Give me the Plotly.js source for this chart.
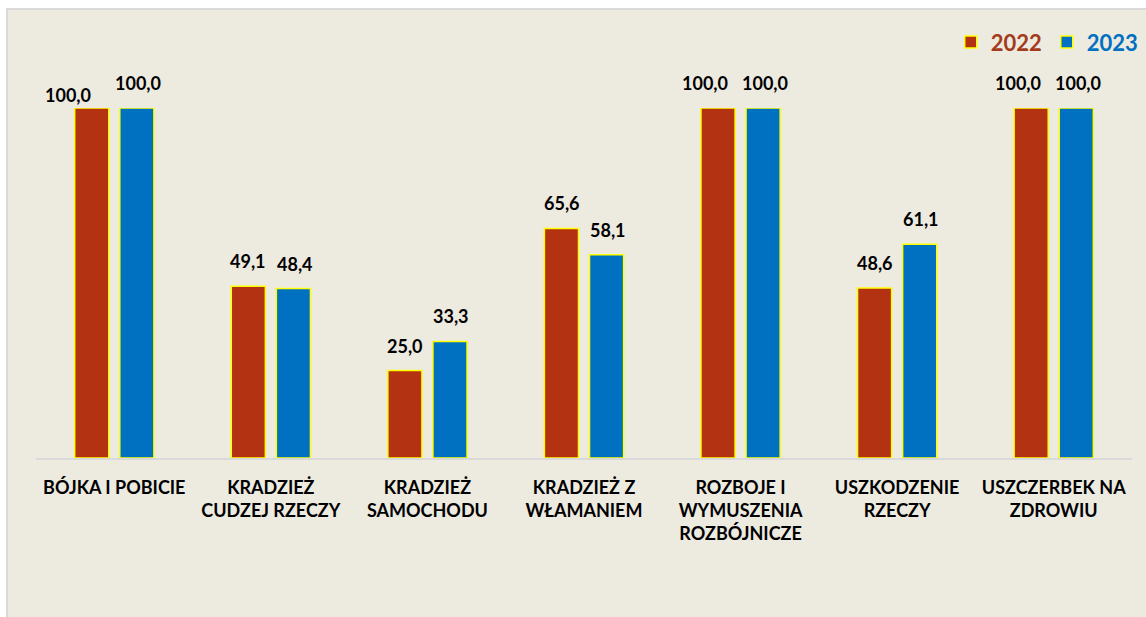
<!DOCTYPE html>
<html>
<head>
<meta charset="utf-8">
<script src="https://cdn.plot.ly/plotly-3.0.1.min.js"></script>
<style>
  body { margin: 0; background: #ffffff; }
  #chart {
    position: absolute; left: 6px; top: 8px;
    width: 1140px; height: 609px;
    border-left: 2px solid #d9d9d9; border-top: 2px solid #d9d9d9;
    box-sizing: border-box;
  }
</style>
</head>
<body>
<div id="chart"></div>
<script>
var categories = [
  "BÓJKA I POBICIE",
  "KRADZIEŻ<br>CUDZEJ RZECZY",
  "KRADZIEŻ<br>SAMOCHODU",
  "KRADZIEŻ Z<br>WŁAMANIEM",
  "ROZBOJE I<br>WYMUSZENIA<br>ROZBÓJNICZE",
  "USZKODZENIE<br>RZECZY",
  "USZCZERBEK NA<br>ZDROWIU"
];
var values2022 = [100.0, 49.1, 25.0, 65.6, 100.0, 48.6, 100.0];
var values2023 = [100.0, 48.4, 33.3, 58.1, 100.0, 61.1, 100.0];

var fontFamily = "Lato, 'Open Sans', 'Liberation Sans', sans-serif";

function fmt(v) {
  return v.toFixed(1).replace(".", ",");
}

var trace2022 = {
  x: categories,
  y: values2022,
  name: "<span style=\"color:#a33b1c\">2022</span>",
  type: "bar",
  marker: { color: "#b33212", line: { color: "#ffff00", width: 1.5 } },
  hoverinfo: "y"
};

var trace2023 = {
  x: categories,
  y: values2023,
  name: "<span style=\"color:#0070c0\">2023</span>",
  type: "bar",
  marker: { color: "#0070c0", line: { color: "#ffff00", width: 1.5 } },
  hoverinfo: "y"
};

// value labels above the bars; when both bars are full height the 2022 label
// is nudged left so the two labels don't run into each other
var annotations = [];
for (var i = 0; i < categories.length; i++) {
  var shiftRed = -22.5, liftRed = 12;
  if (i === 0) { shiftRed = -46; liftRed = 0; }
  else if (values2022[i] === values2023[i]) { shiftRed = -36; }
  annotations.push({
    x: categories[i], y: values2022[i], xref: "x", yref: "y",
    text: fmt(values2022[i]), showarrow: false,
    xanchor: "center", yanchor: "bottom",
    xshift: shiftRed, yshift: liftRed,
    font: { family: fontFamily, size: 18, color: "#000000", weight: "bold" }
  });
  annotations.push({
    x: categories[i], y: values2023[i], xref: "x", yref: "y",
    text: fmt(values2023[i]), showarrow: false,
    xanchor: "center", yanchor: "bottom",
    xshift: 24, yshift: 12,
    font: { family: fontFamily, size: 18, color: "#000000", weight: "bold" }
  });
}

var layout = {
  width: 1138,
  height: 607,
  paper_bgcolor: "#edeae0",
  plot_bgcolor: "#edeae0",
  margin: { l: 28, r: 14, t: 98, b: 159, autoexpand: false },
  barmode: "group",
  bargap: 0.424,
  bargroupgap: 0.244,
  showlegend: true,
  legend: {
    orientation: "h",
    xref: "container", yref: "container",
    x: 0.998, xanchor: "right",
    y: 0.947, yanchor: "middle",
    font: { family: fontFamily, size: 22, weight: "bold" },
    itemwidth: 30,
    bgcolor: "rgba(0,0,0,0)"
  },
  xaxis: {
    showline: true,
    linecolor: "#d9d9d9",
    linewidth: 2,
    ticks: "",
    ticklabelstandoff: 12,
    tickfont: { family: fontFamily, size: 18, color: "#000000", weight: "bold" },
    fixedrange: true
  },
  yaxis: {
    range: [0, 100],
    visible: false,
    showgrid: false,
    zeroline: false,
    fixedrange: true
  },
  annotations: annotations,
  font: { family: fontFamily }
};

Plotly.newPlot("chart", [trace2022, trace2023], layout, { displayModeBar: false, staticPlot: true });
</script>
</body>
</html>
